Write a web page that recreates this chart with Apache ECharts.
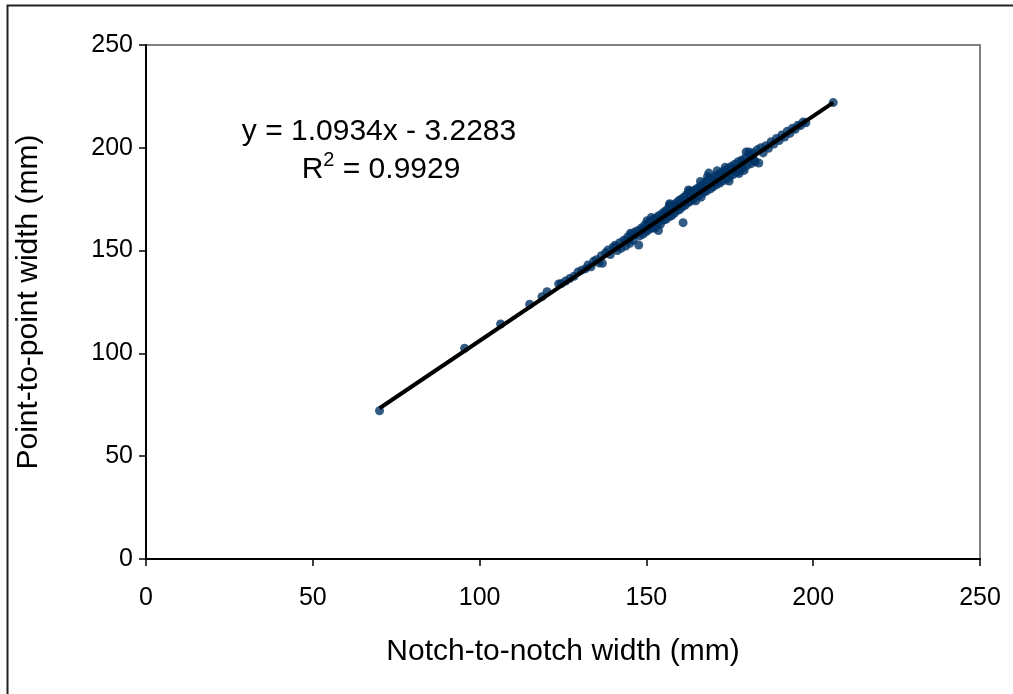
<!DOCTYPE html>
<html>
<head>
<meta charset="utf-8">
<title>Point-to-point vs notch-to-notch width</title>
<script src="https://cdn.jsdelivr.net/npm/echarts@6/dist/echarts.min.js"></script>
<style>
  html, body { margin: 0; padding: 0; background: #fff; }
  #chart { width: 1013px; height: 694px; }
</style>
</head>
<body>
<div id="chart"></div>
<script>
// notch-to-notch width (mm)
var notchWidth = [
  70.0, 95.5, 106.3, 115.0, 118.7, 120.2, 123.7,
  124.5, 125.8, 127.0, 128.3, 129.5, 130.6, 131.8, 132.5, 133.4, 134.2,
  135.0, 135.8, 136.5, 136.8, 137.8, 138.5, 139.2, 140.0, 140.6, 141.3,
  142.0, 142.5, 143.2, 143.8, 144.4, 145.0, 145.5, 146.0, 146.5, 147.7,
  147.5, 148.0, 148.5, 149.0, 149.5, 150.0, 150.4, 150.8, 151.2, 151.7,
  152.1, 152.5, 153.0, 153.4, 153.8, 154.2, 154.7, 155.1, 155.5, 155.9,
  156.3, 156.8, 157.2, 157.6, 158.0, 158.4, 158.8, 159.2, 159.6, 160.0,
  160.4, 160.8, 161.0, 161.2, 161.6, 162.0, 162.4, 162.8, 163.2, 163.6,
  164.0, 164.4, 164.8, 165.2, 165.6, 166.0, 166.4, 166.8, 167.2, 167.6,
  168.0, 168.4, 168.7, 169.2, 169.6, 170.0, 170.5, 171.0, 171.5, 172.0,
  172.5, 173.0, 173.5, 174.0, 174.5, 175.0, 175.5, 176.0, 176.5, 177.0,
  177.5, 178.0, 178.5, 179.0, 179.6, 180.2, 180.8, 181.4, 182.0, 182.6,
  183.2, 183.7, 184.3, 185.0, 185.8, 186.6, 187.4, 188.2, 189.0, 189.8,
  190.6, 191.4, 192.2, 193.0, 193.8, 194.6, 195.4, 196.2, 197.0, 197.8,
  141.0, 144.0, 146.8, 149.8, 152.8, 155.7, 158.6, 161.4, 164.2, 167.0,
  169.8, 172.8, 175.8, 178.8, 181.8,
  150.2, 153.6, 157.0, 162.6, 166.2, 171.2, 174.8, 177.8, 180.7, 179.3,
  145.2, 148.8, 151.5, 154.5, 156.9, 159.9, 163.0, 165.9, 168.3, 170.8,
  173.6, 176.3, 179.9, 182.3,
  206.0
];
// point-to-point width (mm)
var pointWidth = [
  72.1, 102.5, 114.3, 123.9, 127.6, 130.0, 133.8,
  134.0, 135.2, 136.4, 137.5, 139.6, 140.5, 141.2, 143.0, 142.1, 144.8,
  145.6, 144.0, 147.5, 143.8, 149.0, 150.3, 148.1, 151.5, 152.6, 150.0,
  153.8, 151.2, 155.0, 152.2, 156.6, 153.6, 157.9, 155.0, 159.0, 152.7,
  159.8, 157.2, 161.0, 158.0, 162.5, 159.2, 163.4, 160.3, 164.2, 161.0,
  165.3, 160.9, 166.0, 163.2, 167.1, 162.8, 168.0, 164.9, 169.0, 165.2,
  170.2, 166.4, 171.0, 167.0, 172.1, 168.2, 173.0, 169.5, 174.2, 170.0,
  175.0, 171.3, 163.6, 176.0, 172.0, 177.2, 173.2, 178.0, 174.0, 178.6,
  175.0, 179.4, 174.2, 180.2, 176.6, 181.0, 176.0, 182.0, 178.3, 183.0,
  179.0, 184.2, 187.7, 180.0, 185.2, 181.0, 186.0, 182.0, 187.0, 182.9,
  188.0, 184.0, 189.0, 184.8, 190.0, 186.0, 191.0, 187.0, 192.0, 188.0,
  193.2, 189.0, 194.0, 190.2, 195.0, 191.5, 196.5, 192.3, 197.6, 193.2,
  199.0, 192.6, 200.0, 197.5, 201.0, 199.8, 203.0, 201.8, 204.5, 203.5,
  206.2, 205.2, 208.0, 207.0, 209.5, 209.0, 211.0, 210.8, 212.6, 212.2,
  151.8, 154.9, 158.0, 161.2, 164.6, 167.6, 170.9, 174.0, 177.1, 180.2,
  183.3, 186.5, 189.9, 193.0, 196.2,
  164.5, 159.8, 172.8, 179.5, 183.6, 188.8, 183.8, 187.5, 198.0, 189.0,
  158.4, 160.2, 166.1, 166.0, 172.3, 172.0, 179.0, 178.8, 186.0, 183.1,
  190.5, 189.3, 198.0, 193.9,
  222.0
];
// linear trendline shown on the chart
var slope = 1.0934;
var intercept = -3.2283;
var rSquared = 0.9929;
var trendX = [70, 206];
var xTicks = [0, 50, 100, 150, 200, 250];
var yTicks = [0, 50, 100, 150, 200, 250];

var pts = [];
for (var i = 0; i < notchWidth.length; i++) {
  pts.push([notchWidth[i], pointWidth[i]]);
}
var trend = trendX.map(function (x) { return [x, slope * x + intercept]; });

var font = 'Liberation Sans, Arial, sans-serif';
var chart = echarts.init(document.getElementById('chart'));

chart.setOption({
  backgroundColor: '#fff',
  animation: false,
  grid: {
    left: 146, right: 33, top: 45, bottom: 135,
    show: true, borderColor: '#808080', borderWidth: 2, backgroundColor: '#fff'
  },
  xAxis: {
    type: 'value', min: xTicks[0], max: xTicks[xTicks.length - 1], interval: 50,
    name: 'Notch-to-notch width (mm)', nameLocation: 'middle', nameGap: 78,
    nameTextStyle: { fontFamily: font, fontSize: 30, color: '#000' },
    axisLine: { onZero: false, lineStyle: { color: '#000', width: 2 } },
    axisTick: { inside: false, length: 7, lineStyle: { color: '#000', width: 1.5 } },
    axisLabel: { fontFamily: font, fontSize: 25, color: '#000', margin: 27 },
    splitLine: { show: false }
  },
  yAxis: {
    type: 'value', min: yTicks[0], max: yTicks[yTicks.length - 1], interval: 50,
    name: 'Point-to-point width (mm)', nameLocation: 'middle', nameGap: 102,
    nameTextStyle: { fontFamily: font, fontSize: 30, color: '#000' },
    axisLine: { onZero: false, lineStyle: { color: '#000', width: 2 } },
    axisTick: { inside: false, length: 7, lineStyle: { color: '#000', width: 1.5 } },
    axisLabel: { fontFamily: font, fontSize: 25, color: '#000', margin: 13 },
    splitLine: { show: false }
  },
  series: [
    {
      type: 'scatter', data: pts, symbol: 'circle', symbolSize: 9,
      itemStyle: { color: '#003366' }, z: 2
    },
    {
      type: 'line', data: trend, symbol: 'none',
      lineStyle: { color: '#000', width: 4 }, z: 3
    }
  ],
  graphic: [
    {
      type: 'rect', left: 5, top: 3, z: -10, silent: true,
      shape: { width: 1030, height: 720 },
      style: { fill: 'none', stroke: '#222', lineWidth: 2 }
    },
    {
      type: 'text', x: 379, y: 132, z: 10,
      style: {
        text: 'y = ' + slope + 'x - ' + Math.abs(intercept),
        fontFamily: font, fontSize: 30, fill: '#000',
        align: 'center', verticalAlign: 'middle'
      }
    },
    {
      type: 'text', x: 381, y: 170, z: 10,
      style: {
        text: '{a|R}{s|2}{a| = ' + rSquared + '}',
        align: 'center', verticalAlign: 'middle',
        rich: {
          a: { fontFamily: font, fontSize: 30, fill: '#000', color: '#000' },
          s: { fontFamily: font, fontSize: 20, fill: '#000', color: '#000', verticalAlign: 'top', padding: [0, 0, 20, 0] }
        }
      }
    }
  ]
});
</script>
</body>
</html>
